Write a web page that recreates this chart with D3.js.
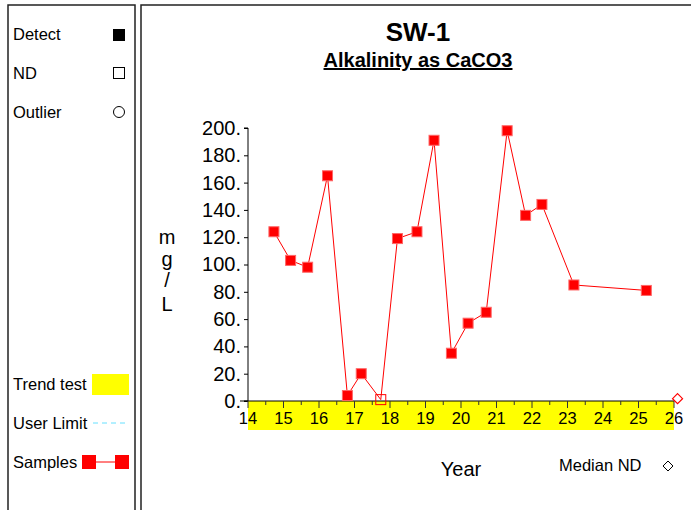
<!DOCTYPE html>
<html><head><meta charset="utf-8">
<script src="https://cdn.jsdelivr.net/npm/d3@7"></script>
<style>body{margin:0;background:#fff}svg{display:block;font-family:Arial,"Liberation Sans",sans-serif}</style>
</head><body>
<svg id="c" width="691" height="510"></svg>
<script>
const years = [14.73,15.20,15.68,16.24,16.80,17.19,17.74,18.21,18.76,19.24,19.73,20.20,20.71,21.30,21.82,22.28,23.18,25.22];
const values = [124,103,98,165,4,20,1,119,124,191,35,57,65,198,136,144,85,81];
const nd = [false,false,false,false,false,false,true,false,false,false,false,false,false,false,false,false,false,false];
const yTicks = [0,20,40,60,80,100,120,140,160,180,200];
const xTicks = [14,15,16,17,18,19,20,21,22,23,24,25,26];
const medianND = [{year:26.1, value:1}];
const title = "SW-1", subtitle = "Alkalinity as CaCO3";

const svg = d3.select("#c");
svg.append("path").attr("d","M8,510V5H135V510").attr("fill","none").attr("stroke","#222").attr("stroke-width",1.5);
svg.append("path").attr("d","M141,510V5H691").attr("fill","none").attr("stroke","#222").attr("stroke-width",1.5);

const x = d3.scaleLinear().domain([14,26]).range([248,674]);
const y = d3.scaleLinear().domain([0,200]).range([401,128]);

svg.append("rect").attr("x",x(14)).attr("y",y(0)).attr("width",x(26)-x(14)).attr("height",29).attr("fill","#ffff00");

const yAxis = d3.axisLeft(y).tickValues(yTicks).tickFormat(d=>d+".").tickSize(4).tickPadding(3);
const gy = svg.append("g").attr("transform",`translate(${x(14)},0)`).call(yAxis);
gy.selectAll("text").attr("font-size",20).attr("fill","#000");
gy.select(".domain").attr("d",`M-4,${y(200)}H0V${y(0)}H-4`).attr("stroke","#000");
gy.selectAll(".tick line").attr("stroke","#000");

const minor = d3.range(14,26.01,0.5);
const gx = svg.append("g").attr("transform",`translate(0,${y(0)})`);
gx.append("line").attr("x1",x(14)-8).attr("x2",x(26)).attr("y1",0).attr("y2",0).attr("stroke","#000");
gx.selectAll("line.t").data(minor).join("line").attr("class","t")
  .attr("x1",d=>x(d)).attr("x2",d=>x(d)).attr("y1",0).attr("y2",d=>Number.isInteger(d)?7:4).attr("stroke","#333");
gx.selectAll("text").data(xTicks).join("text").attr("x",d=>x(d)).attr("y",23)
  .attr("text-anchor","middle").attr("font-size",16.5).attr("fill","#000").text(d=>d);

const pts = years.map((yr,i)=>({yr, v:values[i], nd:nd[i]}));
svg.append("path").datum(pts).attr("fill","none").attr("stroke","#ff0000").attr("stroke-width",1)
  .attr("d",d3.line().x(d=>x(d.yr)).y(d=>y(d.v)));
svg.selectAll("rect.p").data(pts).join("rect").attr("class","p")
  .attr("x",d=>x(d.yr)-5).attr("y",d=>y(d.v)-5)
  .attr("width",10).attr("height",10)
  .attr("fill",d=>d.nd?"none":"#ff0000").attr("stroke",d=>d.nd?"#ff0000":"#ff6666").attr("stroke-width",1);

svg.selectAll("path.md").data(medianND).join("path").attr("class","md")
  .attr("d",d=>{const cx=x(d.year),cy=y(d.value)-1;return `M${cx},${cy-5}L${cx+5},${cy}L${cx},${cy+5}L${cx-5},${cy}Z`;})
  .attr("fill","#fff").attr("stroke","#ff0000").attr("stroke-width",1.2);

svg.append("text").attr("x",418).attr("y",41).attr("text-anchor","middle").attr("font-size",26).attr("font-weight","bold").text(title);
svg.append("text").attr("x",418).attr("y",67).attr("text-anchor","middle").attr("font-size",20).attr("font-weight","bold").attr("text-decoration","underline").text(subtitle);

["m","g","/","L"].forEach((c,i)=>svg.append("text").attr("x",167).attr("y",[244,266,287,311][i]).attr("text-anchor","middle").attr("font-size",20).text(c));
svg.append("text").attr("x",461).attr("y",476).attr("text-anchor","middle").attr("font-size",20).text("Year");
svg.append("text").attr("x",559).attr("y",471).attr("font-size",16.5).text("Median ND");
svg.append("path").attr("d","M668,461L673,466L668,471L663,466Z").attr("fill","#fff").attr("stroke","#000").attr("stroke-width",1);

const lg = svg.append("g").attr("font-size",16.5);
lg.append("text").attr("x",13).attr("y",40).text("Detect");
lg.append("rect").attr("x",113).attr("y",29).attr("width",12).attr("height",12).attr("fill","#000");
lg.append("text").attr("x",13).attr("y",79).text("ND");
lg.append("rect").attr("x",113.5).attr("y",67.5).attr("width",11).attr("height",11).attr("fill","none").attr("stroke","#000");
lg.append("text").attr("x",13).attr("y",118).text("Outlier");
lg.append("circle").attr("cx",119).attr("cy",112).attr("r",5.5).attr("fill","none").attr("stroke","#000");
lg.append("text").attr("x",13).attr("y",390).text("Trend test");
lg.append("rect").attr("x",92).attr("y",374).attr("width",37).attr("height",21).attr("fill","#ffff00");
lg.append("text").attr("x",13).attr("y",429).text("User Limit");
lg.append("line").attr("x1",93).attr("x2",129).attr("y1",423).attr("y2",423).attr("stroke","#66e0ff").attr("stroke-dasharray","5,4");
lg.append("text").attr("x",13).attr("y",468).text("Samples");
lg.append("line").attr("x1",89).attr("x2",122).attr("y1",462).attr("y2",462).attr("stroke","#ff0000");
lg.append("rect").attr("x",82).attr("y",455).attr("width",14).attr("height",14).attr("fill","#ff0000");
lg.append("rect").attr("x",115).attr("y",455).attr("width",14).attr("height",14).attr("fill","#ff0000");
</script>
</body></html>
